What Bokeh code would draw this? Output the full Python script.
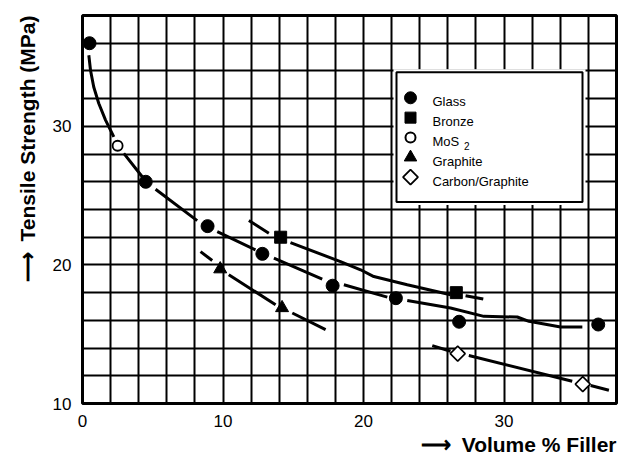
import numpy as np
from bokeh.plotting import figure
from bokeh.models import Range1d, FixedTicker, Title
from bokeh.core.properties import value
from bokeh.embed import file_html
from bokeh.resources import INLINE

nan = float("nan")

# ---- measured points: tensile strength (MPa) vs volume % filler ----
glass_x = [0.5, 4.5, 8.9, 12.8, 17.8, 22.3, 26.8, 36.7]
glass_y = [36.0, 26.0, 22.8, 20.8, 18.5, 17.6, 15.9, 15.7]
bronze_x = [14.1, 26.6]
bronze_y = [22.0, 18.0]
mos2_x = [2.5]
mos2_y = [28.6]
graphite_x = [9.8, 14.2]
graphite_y = [19.7, 16.9]
carbon_x = [26.7, 35.6]
carbon_y = [13.6, 11.4]

# ---- hand-fitted trend curves (nan breaks the line around markers) ----
glass_fit_x = [0.45, 0.57, 0.80, 1.16, 1.64, 2.23, nan, 2.94, 4.25, nan,
               5.20, 8.16, nan, 9.59, 12.31, nan, 13.62, 17.06, nan,
               18.6, 21.69, nan, 23.11, 26.19, 28.56, 30.94, 31.77, 34.02, 35.57]
glass_fit_y = [35.13, 34.05, 32.84, 31.65, 30.45, 29.24, nan, 28.05, 26.36, nan,
               25.46, 23.20, nan, 22.40, 21.09, nan, 20.49, 18.98, nan,
               18.57, 17.68, nan, 17.44, 16.89, 16.29, 16.24, 15.93, 15.52, 15.52]
bronze_fit_x = [11.84, 13.26, nan, 14.80, 18.36, 19.79, 20.73, 23.11, 26.19, nan, 27.26, 28.52]
bronze_fit_y = [23.20, 22.29, nan, 21.61, 20.24, 19.65, 19.16, 18.57, 17.85, nan, 17.78, 17.54]
graphite_fit_x = [8.40, 9.23, nan, 10.41, 13.74, nan, 14.93, 17.30]
graphite_fit_y = [20.96, 20.32, nan, 19.29, 17.13, nan, 16.53, 15.33]
carbon_fit_x = [24.89, 26.19, nan, 27.49, 34.85, nan, 36.16, 37.46]
carbon_fit_y = [14.18, 13.77, nan, 13.46, 11.61, nan, 11.30, 10.96]

x_ticks = [0, 10, 20, 30]
y_ticks = [10, 20, 30]
legend_names = ["Glass", "Bronze", "MoS", "Graphite", "Carbon/Graphite"]
x_title = "\u27f6\u2002Volume % Filler"
y_title = "\u27f6\u2002Tensile Strength (MPa)"

FONT = "Liberation Sans"
W, H = 618, 456
LEFT, RIGHT, TOP, BOTTOM = 82, 2, 15, 52
FW, FH = W - LEFT - RIGHT, H - TOP - BOTTOM

p = figure(width=W, height=H, x_range=Range1d(0, 38), y_range=Range1d(10, 38),
           output_backend="svg", toolbar_location=None,
           min_border_left=LEFT, min_border_right=RIGHT,
           min_border_top=TOP, min_border_bottom=BOTTOM)
# pixel-space ranges (origin at frame top-left) for the legend block
p.extra_x_ranges = {"px": Range1d(0, FW)}
p.extra_y_ranges = {"px": Range1d(FH, 0)}

p.background_fill_color = "white"
p.border_fill_color = "white"
p.outline_line_color = "black"
p.outline_line_width = 3
p.outline_line_alpha = 1

# graph-paper grid every 2 units
p.xgrid.ticker = FixedTicker(ticks=list(range(0, 39, 2)))
p.ygrid.ticker = FixedTicker(ticks=list(range(10, 39, 2)))
for g in (p.xgrid, p.ygrid):
    g.grid_line_color = "black"
    g.grid_line_width = 2
    g.grid_line_alpha = 1

p.xaxis.ticker = FixedTicker(ticks=x_ticks)
p.yaxis.ticker = FixedTicker(ticks=y_ticks)
for ax in (p.xaxis, p.yaxis):
    ax.axis_line_color = None
    ax.major_tick_line_color = None
    ax.minor_tick_line_color = None
    ax.major_tick_out = 0
    ax.major_tick_in = 0
    ax.minor_tick_out = 0
    ax.minor_tick_in = 0
    ax.major_label_text_font = FONT
    ax.major_label_text_font_size = "17px"
    ax.major_label_text_color = "black"
p.xaxis.major_label_standoff = 11
p.yaxis.major_label_standoff = 11

# trend curves
for fx, fy in ((glass_fit_x, glass_fit_y), (bronze_fit_x, bronze_fit_y),
               (graphite_fit_x, graphite_fit_y), (carbon_fit_x, carbon_fit_y)):
    p.line(fx, fy, line_color="black", line_width=3)

# data markers
p.scatter(glass_x, glass_y, marker="circle", size=13, fill_color="black", line_color="black")
p.scatter(bronze_x, bronze_y, marker="square", size=12, fill_color="black", line_color="black")
p.scatter(mos2_x, mos2_y, marker="circle", size=10, fill_color="white",
          line_color="black", line_width=1.8)
p.scatter(graphite_x, graphite_y, marker="triangle", size=13, fill_color="black", line_color="black")
p.scatter(carbon_x, carbon_y, marker="square", angle=np.pi / 4, size=10.6,
          fill_color="white", line_color="black", line_width=1.6)

# ---- legend box (pixel coordinates inside the frame) ----
lg_left, lg_right, lg_top, lg_bottom = 314, 500, 57, 187
p.quad(left=[lg_left - 3], right=[lg_right + 3], top=[lg_top - 3], bottom=[lg_bottom + 3],
       fill_color="white", line_color=None, x_range_name="px", y_range_name="px")
p.quad(left=[lg_left], right=[lg_right], top=[lg_top], bottom=[lg_bottom],
       fill_color="white", line_color="black", line_width=2,
       x_range_name="px", y_range_name="px")

row0, step = 82.5, 19.9
rows = [row0 + i * step for i in range(len(legend_names))]
mk_x = 328
kw = dict(x_range_name="px", y_range_name="px", line_color="black")
p.scatter([mk_x], [rows[0]], marker="circle", size=12, fill_color="black", **kw)
p.scatter([mk_x], [rows[1]], marker="square", size=11, fill_color="black", **kw)
p.scatter([mk_x], [rows[2]], marker="circle", size=10, fill_color="white", line_width=2, **kw)
p.scatter([mk_x], [rows[3]], marker="triangle", size=12.5, fill_color="black", **kw)
p.scatter([mk_x], [rows[4]], marker="square", angle=np.pi / 4, size=10.6,
          fill_color="white", line_width=1.8, **kw)

p.text(x=[350] * len(legend_names), y=[r + 4.2 for r in rows], text=legend_names,
       text_font=value(FONT), text_font_size=value("13px"), text_color="black",
       text_baseline="alphabetic", text_align="left",
       x_range_name="px", y_range_name="px")
p.text(x=[381.5], y=[rows[2] + 9], text=["2"],
       text_font=value(FONT), text_font_size=value("10px"), text_color="black",
       text_baseline="alphabetic", text_align="left",
       x_range_name="px", y_range_name="px")

# ---- axis titles (with direction arrows) in the side panels ----
p.add_layout(Title(text=y_title, align="right", text_font=FONT, text_font_size="21px",
                   text_font_style="bold", text_color="black", standoff=21), "left")
p.add_layout(Title(text=x_title, align="right", text_font=FONT, text_font_size="21px",
                   text_font_style="bold", text_color="black", standoff=2), "below")

open("out.html", "w").write(file_html(p, INLINE))
